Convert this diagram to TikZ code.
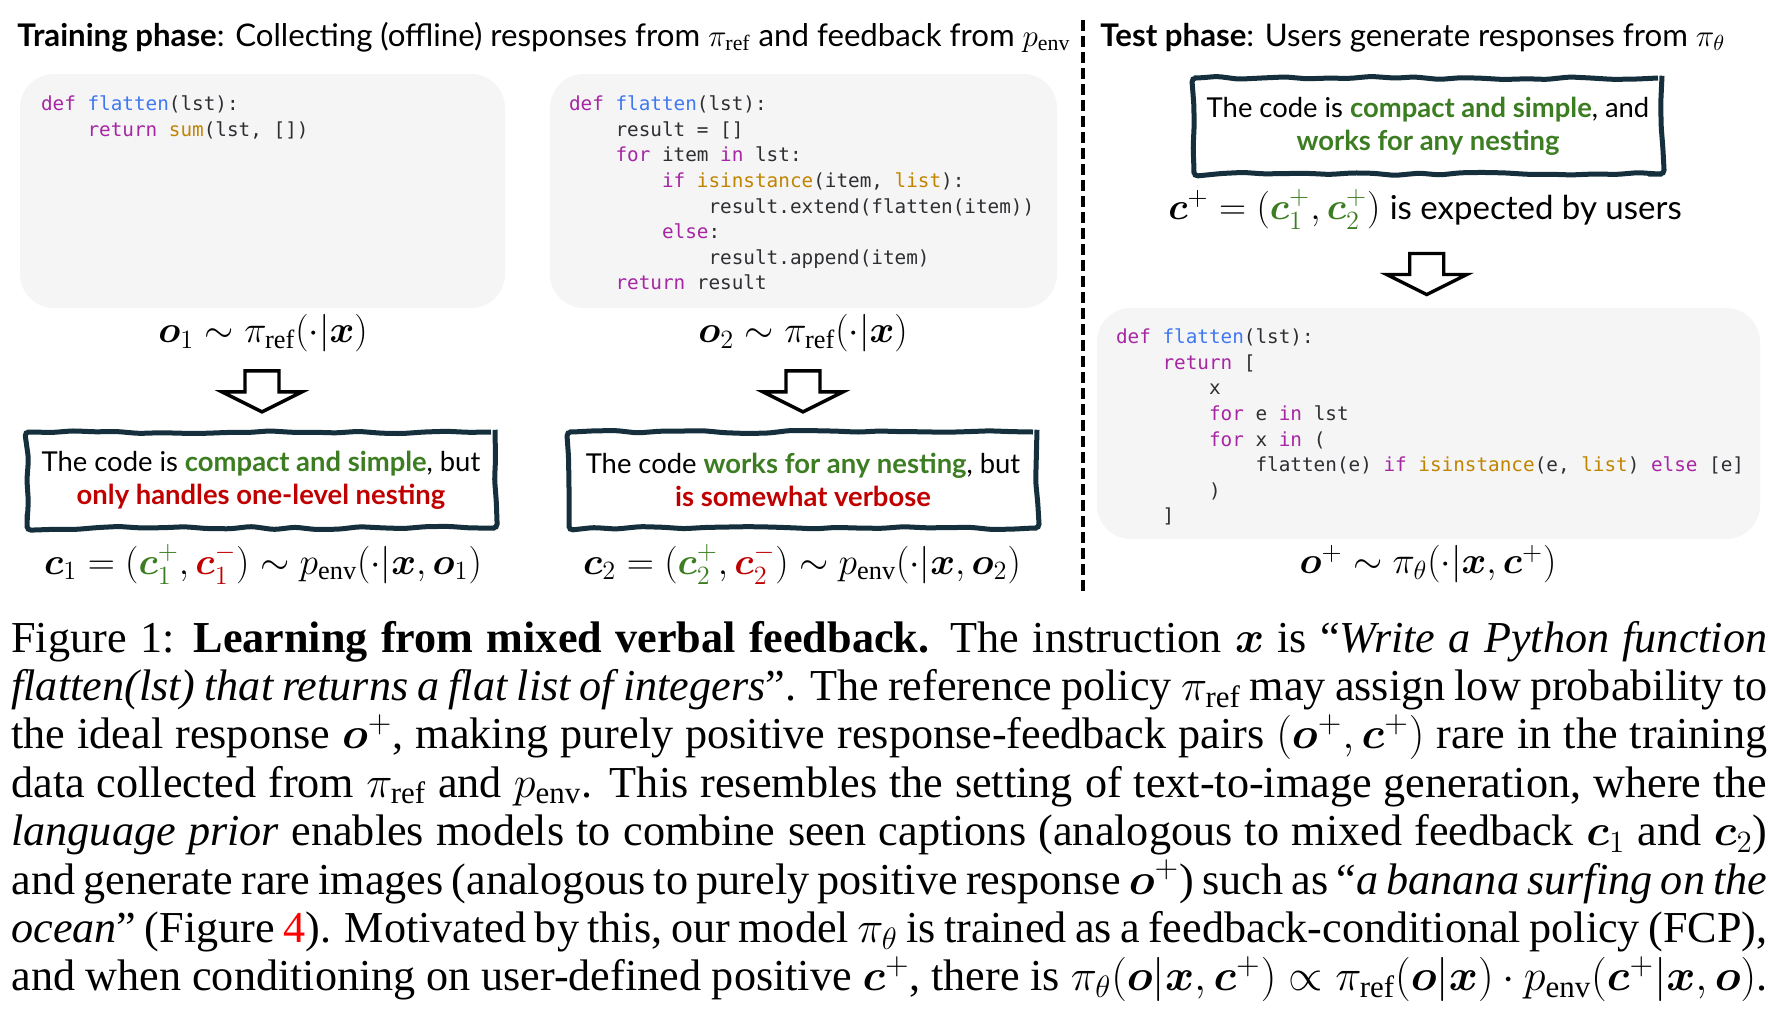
\RequirePackage{fix-cm}
\documentclass[tikz,border=0pt]{standalone}
\usepackage{amsmath,amssymb,bm}
\usepackage{fontspec}
\setmainfont{Liberation Serif}
\newfontfamily\gillfont{Lato}
\newfontfamily\codefont{DejaVu Sans Mono}
\usetikzlibrary{calc,positioning,decorations.pathmorphing}

\definecolor{fbgreen}{HTML}{3C7D22}
\definecolor{fbred}{HTML}{C00000}
\definecolor{boxline}{HTML}{15303C}
\definecolor{codebg}{HTML}{F5F5F5}
\definecolor{kwpurple}{HTML}{A626A4}
\definecolor{fnblue}{HTML}{4078F2}
\definecolor{bigold}{HTML}{C18401}
\definecolor{codetext}{HTML}{2E2F33}

\newcommand{\pykw}[1]{\textcolor{kwpurple}{#1}}
\newcommand{\pyfn}[1]{\textcolor{fnblue}{#1}}
\newcommand{\pybi}[1]{\textcolor{bigold}{#1}}
\newcommand{\pyind}[1]{\hspace*{#1\fontcharwd\font`0}}
\newcommand{\good}[1]{\textbf{\color{fbgreen}#1}}
\newcommand{\bad}[1]{\textbf{\color{fbred}#1}}

\begin{document}
\begin{tikzpicture}[x=0.5pt,y=-0.5pt,
  codebox/.style={fill=codebg,rounded corners=17pt,inner sep=0pt},
  code/.style={font=\codefont\fontsize{9.66}{12.8}\selectfont,text=codetext,align=left,inner sep=0pt,anchor=north west},
  fbbox/.style={draw=boxline,line width=2.5pt,fill=white,align=center,inner sep=0pt,
    minimum width=234pt,minimum height=48pt,font=\gillfont\fontsize{13.7}{16.5}\selectfont,
    decorate,decoration={random steps,segment length=11pt,amplitude=0.8pt},rounded corners=2pt},
  formula/.style={inner sep=0pt,font=\fontsize{18.8}{22}\selectfont},
  phase/.style={inner sep=0pt,anchor=base west,font=\gillfont\fontsize{15.6}{18}\selectfont},
  caption/.style={inner sep=0pt,anchor=base west,text width=878pt,align=justify,
    font=\fontsize{22.09}{24.2}\selectfont},
  hollow/.pic={\draw[line width=1.7pt,fill=white] (-17,-20) -- (17,-20) -- (17,1) -- (40,1)
    -- (0,21) -- (-40,1) -- (-17,1) -- cycle;}]
  \pgfmathsetseed{7}
  \fill[white] (0,0) rectangle (1788,1018);
  \useasboundingbox (0,0) rectangle (1788,1018);

  % phases
  \node[phase] (train) at (17,46) {\textbf{Training phase}: Collecting (offline) responses from $\pi_{\mathrm{ref}}$ and feedback from $p_{\mathrm{env}}$};
  \node[phase] (test) at (1100,46) {\textbf{Test phase}: Users generate responses from $\pi_\theta$};
  \draw[line width=1.9pt,dash pattern=on 5.5pt off 2.5pt] (1083,20) -- (1083,591);

  % training: response 1
  \node[codebox,minimum width=242.5pt,minimum height=117pt] (cbox1) at (262.5,191) {};
  \node[code] (src1) at ($(cbox1.north west)+(21,22)$) {%
\pykw{def} \pyfn{flatten}(lst):\\
\pyind{4}\pykw{return} \pybi{sum}(lst, [])};
  \node[formula] (o1) at (263,333) {$\bm{o}_1\sim\pi_{\mathrm{ref}}(\cdot|\bm{x})$};
  \node[fbbox] (fb1) at (261,480) {The code is \good{compact and simple}, but\\ \bad{only handles one-level nesting}};
  \node[formula] (c1) at (263,564) {$\bm{c}_1=({\color{fbgreen}\bm{c}_1^+},{\color{fbred}\bm{c}_1^-})\sim p_{\mathrm{env}}(\cdot|\bm{x},\bm{o}_1)$};
  \pic at ($(o1.south)!0.5!(fb1.north)$) {hollow};

  % training: response 2
  \node[codebox,minimum width=253.5pt,minimum height=117pt] (cbox2) at (803.5,191) {};
  \node[code] (src2) at ($(cbox2.north west)+(19,22)$) {%
\pykw{def} \pyfn{flatten}(lst):\\
\pyind{4}result = []\\
\pyind{4}\pykw{for} item \pykw{in} lst:\\
\pyind{8}\pykw{if} \pybi{isinstance}(item, \pybi{list}):\\
\pyind{12}result.extend(flatten(item))\\
\pyind{8}\pykw{else}:\\
\pyind{12}result.append(item)\\
\pyind{4}\pykw{return} result};
  \node[formula] (o2) at (803,333) {$\bm{o}_2\sim\pi_{\mathrm{ref}}(\cdot|\bm{x})$};
  \node[fbbox] (fb2) at (803,480) {The code \good{works for any nesting}, but\\ \bad{is somewhat verbose}};
  \node[formula] (c2) at (802,564) {$\bm{c}_2=({\color{fbgreen}\bm{c}_2^+},{\color{fbred}\bm{c}_2^-})\sim p_{\mathrm{env}}(\cdot|\bm{x},\bm{o}_2)$};
  \pic at ($(o2.south)!0.5!(fb2.north)$) {hollow};

  % test
  \node[fbbox] (fbt) at (1428,126) {The code is \good{compact and simple}, and\\ \good{works for any nesting}};
  \node[formula] (cplus) at (1425,209) {$\bm{c}^+=({\color{fbgreen}\bm{c}_1^+},{\color{fbgreen}\bm{c}_2^+})$\ {\gillfont\fontsize{16.5}{19}\selectfont is expected by users}};
  \node[codebox,minimum width=331.5pt,minimum height=115.5pt] (cbox3) at (1428.5,423.5) {};
  \node[code] (src3) at ($(cbox3.north west)+(19,21)$) {%
\pykw{def} \pyfn{flatten}(lst):\\
\pyind{4}\pykw{return} [\\
\pyind{8}x\\
\pyind{8}\pykw{for} e \pykw{in} lst\\
\pyind{8}\pykw{for} x \pykw{in} (\\
\pyind{12}flatten(e) \pykw{if} \pybi{isinstance}(e, \pybi{list}) \pykw{else} [e]\\
\pyind{8})\\
\pyind{4}]};
  \node[formula] (oplus) at (1428,564) {$\bm{o}^+\sim\pi_\theta(\cdot|\bm{x},\bm{c}^+)$};
  \pic at ($(cplus.south)!0.5!(cbox3.north)+(0,5)$) {hollow};

  % caption
  \node[caption] (cap) at (11,652) {\parfillskip=0pt
Figure 1: \textbf{Learning from mixed verbal feedback.} The instruction $\bm{x}$ is “\textit{Write a Python function}\linebreak
\textit{flatten(lst) that returns a flat list of integers}”. The reference policy $\pi_{\mathrm{ref}}$ may assign low probability to\linebreak
the ideal response $\bm{o}^+$, making purely positive response-feedback pairs $(\bm{o}^+,\bm{c}^+)$ rare in the training\linebreak
data collected from $\pi_{\mathrm{ref}}$ and $p_{\mathrm{env}}$. This resembles the setting of text-to-image generation, where the\linebreak
\textit{language prior} enables models to combine seen captions (analogous to mixed feedback $\bm{c}_1$ and $\bm{c}_2$)\linebreak
and generate rare images (analogous to purely positive response $\bm{o}^+$) such as “\textit{a banana surfing on the}\linebreak
\textit{ocean}” (Figure \textcolor{red}{4}). Motivated by this, our model $\pi_\theta$ is trained as a feedback-conditional policy (FCP),\linebreak
and when conditioning on user-defined positive $\bm{c}^+$, there is $\pi_\theta(\bm{o}|\bm{x},\bm{c}^+)\propto\pi_{\mathrm{ref}}(\bm{o}|\bm{x})\cdot p_{\mathrm{env}}(\bm{c}^+|\bm{x},\bm{o})$.\par};
\end{tikzpicture}
\end{document}
